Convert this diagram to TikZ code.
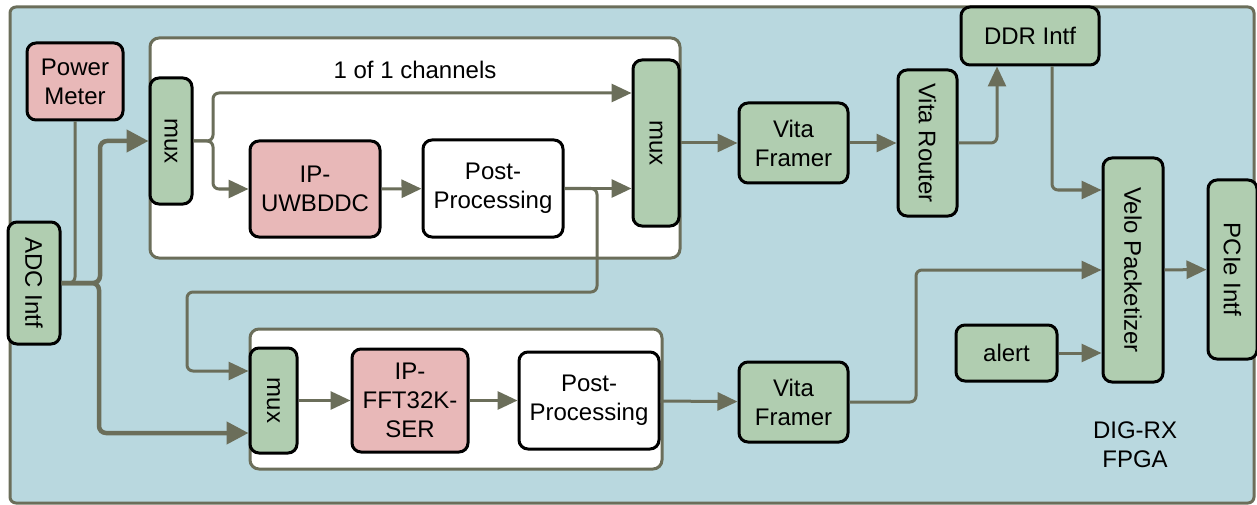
\documentclass[tikz,border=0pt]{standalone}
\usepackage{fontspec}
\setmainfont{Liberation Sans}
\usetikzlibrary{arrows.meta,calc}
\definecolor{bgblue}{HTML}{B9D8DF}
\definecolor{gfill}{HTML}{B0CDB0}
\definecolor{pfill}{HTML}{E8B8B8}
\definecolor{lcol}{HTML}{6B6E5A}
\tikzset{
  blk/.style={draw=black, line width=3pt, rounded corners=9pt, align=center, inner sep=0pt, font=\fontsize{24}{29}\selectfont},
  gbox/.style={blk, fill=gfill},
  pbox/.style={blk, fill=pfill},
  wbox/.style={blk, fill=white},
  conn/.style={draw=lcol, line width=3pt, rounded corners=6pt, -{Triangle[length=20pt,width=18pt]}},
  plain/.style={draw=lcol, line width=3pt, rounded corners=6pt},
  tconn/.style={draw=lcol, line width=4.5pt, rounded corners=7pt, -{Triangle[length=22pt,width=22pt]}},
  grp/.style={draw=lcol, line width=3pt, rounded corners=9pt, fill=white},
  lbl/.style={align=center, inner sep=0pt, font=\fontsize{24}{29}\selectfont}
}
\begin{document}
\begin{tikzpicture}[x=1pt,y=-1pt]
\useasboundingbox (0,0) rectangle (1257,505);
\draw[draw=lcol, line width=3pt, fill=bgblue, rounded corners=6pt] (10,7) rectangle (1254,503);
\draw[grp] (150,38) rectangle (680,258);
\draw[grp] (250,329) rectangle (662,469);

\node[pbox, minimum width=96pt, minimum height=77pt] (PM) at (75,81.5) {Power\\Meter};
\node[gbox, minimum width=42pt, minimum height=126pt] (mux1) at (171,141) {\rotatebox{-90}{mux}};
\node[pbox, minimum width=130pt, minimum height=96pt] (UW) at (315,189) {IP-\\UWBDDC};
\node[wbox, minimum width=140pt, minimum height=97pt] (PP1) at (493,188.5) {Post-\\Processing};
\node[gbox, minimum width=46pt, minimum height=166pt] (mux2) at (656,143) {\rotatebox{-90}{mux}};
\node[gbox, minimum width=109pt, minimum height=80pt] (VF1) at (793.5,143) {Vita\\Framer};
\node[gbox, minimum width=59pt, minimum height=146pt] (VR) at (927.5,143) {\rotatebox{-90}{Vita Router}};
\node[gbox, minimum width=138pt, minimum height=58pt] (DDR) at (1030,36) {DDR Intf};
\node[gbox, minimum width=60pt, minimum height=224pt] (Velo) at (1133,270) {\rotatebox{-90}{Velo Packetizer}};
\node[gbox, minimum width=49pt, minimum height=179pt] (PCIe) at (1232.5,269.5) {\rotatebox{-90}{PCIe Intf}};
\node[gbox, minimum width=101pt, minimum height=56pt] (alert) at (1006.5,353) {alert};
\node[gbox, minimum width=52pt, minimum height=122pt] (ADC) at (34,283) {\rotatebox{-90}{ADC Intf}};
\node[gbox, minimum width=47pt, minimum height=105pt] (mux3) at (273.5,400.5) {\rotatebox{-90}{mux}};
\node[pbox, minimum width=116pt, minimum height=103pt] (FFT) at (410,400.5) {IP-\\FFT32K-\\SER};
\node[wbox, minimum width=140pt, minimum height=97pt] (PP2) at (589,400.5) {Post-\\Processing};
\node[gbox, minimum width=109pt, minimum height=80pt] (VF2) at (793.5,402) {Vita\\Framer};

\node[lbl] (chan) at (415,70) {1 of 1 channels};
\node[lbl] (fpga) at (1135,445) {DIG-RX\\FPGA};

% connectors
\draw[plain] (PM.south) |- (ADC.east);
\draw[tconn] (ADC.east) -- (100,283) |- (mux1.west);
\draw[tconn] (ADC.east) -- (99,283) |- (mux3.west |- 0,433);
\draw[conn] (mux1.east) -- (213,141) |- (mux2.west |- 0,93);
\draw[conn] (mux1.east) -- (213,141) |- (UW.west);
\draw[conn] (UW) -- (PP1);
\draw[conn] (PP1.east) -- (mux2.west |- PP1.east);
\draw[conn] (PP1.east) -| (597,292) -| (187,371) -- (mux3.west |- 0,371);
\draw[conn] (mux2) -- (VF1);
\draw[conn] (VF1) -- (VR);
\draw[conn] (VR.east) -| (DDR.south -| 997,0);
\draw[conn] (DDR.south -| 1052,0) |- (Velo.west |- 0,190);
\draw[conn] (mux3) -- (FFT);
\draw[conn] (FFT) -- (PP2);
\draw[conn] (PP2) -- (VF2);
\draw[conn] (VF2.east) -| (916,270) -- (Velo.west);
\draw[conn] (alert) -- (Velo.west |- alert);
\draw[conn] (Velo) -- (PCIe);
\end{tikzpicture}
\end{document}
